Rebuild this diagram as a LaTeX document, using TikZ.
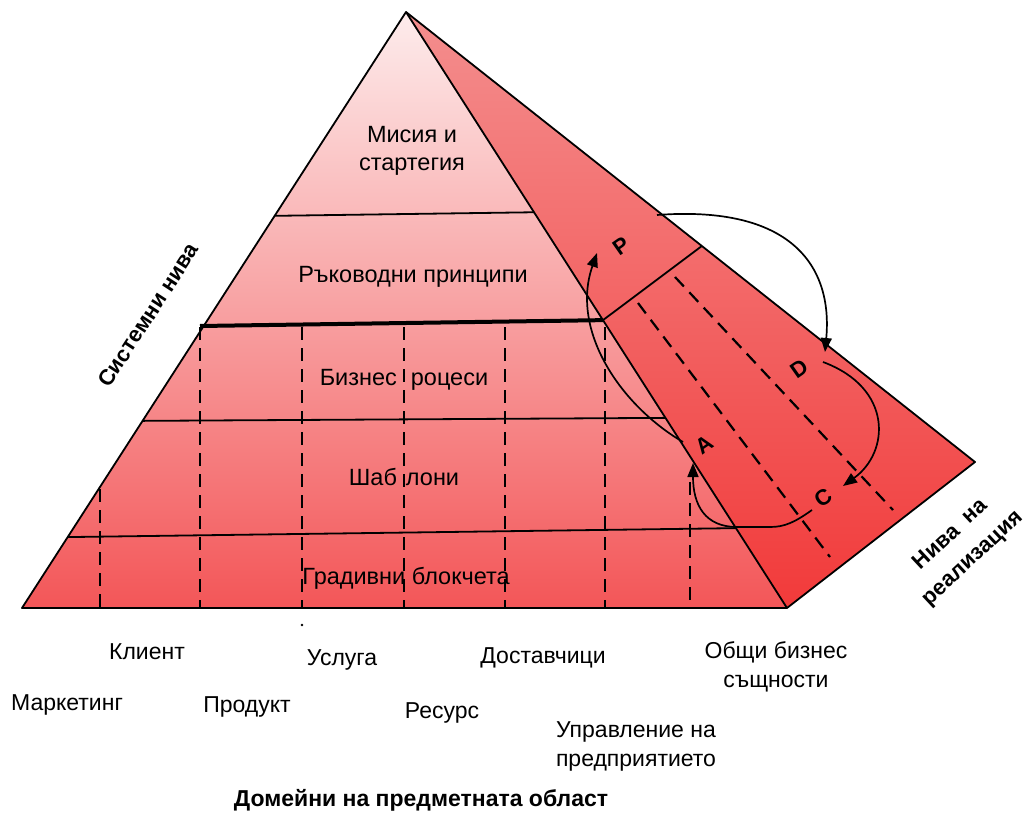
\documentclass[tikz,border=0pt]{standalone}
\usepackage{fontspec}
\setmainfont{Liberation Sans}
\usetikzlibrary{arrows.meta, calc, positioning}
\definecolor{facetop}{RGB}{253,236,236}
\definecolor{facebot}{RGB}{243,86,88}
\definecolor{sidetop}{RGB}{243,142,142}
\definecolor{sidebot}{RGB}{242,58,58}
\tikzset{
>={Triangle[length=14pt,width=11pt]}, % filled black heads
edgeline/.style={line width=1.8pt, line join=round}, % outline and level lines
splitline/.style={line width=4pt}, % the bold level line
domline/.style={line width=2.2pt, dash pattern=on 13pt off 8pt}, % domain separators
cycleline/.style={line width=1.7pt, ->}, % the P-D-C-A loop
lvl/.style={font=\fontsize{23.5}{28}\selectfont, align=center},
dom/.style={font=\fontsize{23}{29}\selectfont, align=center},
axislabel/.style={font=\bfseries\fontsize{22}{32}\selectfont, align=center},
phase/.style={font=\bfseries\fontsize{22}{24}\selectfont, rotate=35},
}

\begin{document}
\begin{tikzpicture}[x=1pt, y=1pt]
      \useasboundingbox (0,0) rectangle (1029,-814);

      % corners of the pyramid
      \coordinate (apex) at (406,-12);
      \coordinate (bl) at (22,-608);
      \coordinate (br) at (787,-608);
      \coordinate (far) at (975,-462);

      % faces
      \shade[top color=sidetop, bottom color=sidebot] (apex) -- (far) -- (br) -- cycle;
      \shade[top color=facetop, bottom color=facebot] (apex) -- (bl) -- (br) -- cycle;

      % level lines
      \coordinate (m1) at ($(apex)!0.342!(bl)$);
      \coordinate (n1) at ($(apex)!0.336!(br)$);
      \coordinate (m2) at (200,-326);
      \coordinate (n2) at ($(apex)!0.517!(br)$);
      \coordinate (o2) at ($(apex)!0.52!(far)$);
      \coordinate (m3) at ($(apex)!0.686!(bl)$);
      \coordinate (n3) at ($(apex)!0.681!(br)$);
      \coordinate (m4) at ($(apex)!0.881!(bl)$);
      \coordinate (n4) at ($(apex)!0.866!(br)$);
      \draw[edgeline] (m1) -- (n1);
      \draw[edgeline] (m3) -- (n3);
      \draw[edgeline] (m4) -- (n4);
      \draw[edgeline] (n2) -- (o2);

      % domain separators
      \foreach \x in {200,302,404,505,605}
        \draw[domline] (\x,-327) -- (\x,-608);
      \draw[domline] (100,-489) -- (100,-608);
      \draw[domline] (690,-482) -- (690,-608);
      \fill (302,-625) circle (1.3pt);
      \draw[domline] (638,-303) -- (830,-557);
      \draw[domline] (675,-277) -- (893,-510);

      \draw[splitline] (m2) -- (n2);
      \draw[edgeline] (apex) -- (bl) -- (br) -- (far) -- cycle;
      \draw[edgeline] (apex) -- (br);

      % P -> D -> C -> A -> P
      \coordinate (pstart) at (657,-215);
      \coordinate (dtip) at (825,-352);
      \coordinate (dstart) at (823,-362);
      \coordinate (ctip) at (843,-486);
      \coordinate (cstart) at (812,-510);
      \coordinate (cbend) at (770,-527);
      \coordinate (cjoin) at (737,-527);
      \coordinate (atip) at (693,-463);
      \coordinate (astart) at (683,-442);
      \coordinate (ptip) at (597,-253);
      \draw[cycleline] (pstart) .. controls (790,-205) and (833,-265) .. (dtip);
      \draw[cycleline] (dstart) .. controls (893,-388) and (890,-452) .. (ctip);
      \draw[cycleline] (cstart) .. controls (795,-522) and (785,-527) .. (cbend)
        -- (cjoin) .. controls (705,-527) and (693,-505) .. (atip);
      \draw[cycleline] (astart) .. controls (620,-405) and (570,-330) .. (ptip);

      \node[phase] (p) at (621,-246) {P};
      \node[phase] (d) at (799,-369) {D};
      \node[phase] (c) at (823,-498) {C};
      \node[phase] (a) at (704,-445) {A};

      % system levels
      \node[lvl] (mission) at (412,-151) {Мисия и\\стартегия};
      \node[lvl] (principles) at (413,-277) {Ръководни принципи};
      \node[lvl] (processes) at (404,-380) {Бизнес\hspace{14pt}роцеси};
      \node[lvl] (templates) at (404,-477) {Шаб\hspace{9pt}лони};
      \node[lvl] (blocks) at (406,-578) {Градивни блокчета};

      % domains
      \node[dom] (client) at (147,-652) {Клиент};
      \node[dom] (marketing) at (67,-705) {Маркетинг};
      \node[dom] (product) at (247,-707) {Продукт};
      \node[dom] (service) at (342,-660) {Услуга};
      \node[dom] (resource) at (442,-713) {Ресурс};
      \node[dom] (suppliers) at (543,-658) {Доставчици};
      \node[dom] (entities) at (776,-667) {Общи бизнес\\същности};
      \node[dom] (enterprise) at (636,-746) {Управление на\\предприятието};

      % axes
      \node[axislabel, rotate=57] (sys) at (148,-315) {Системни нива};
      \node[axislabel, rotate=43] (impl) at (962,-547) {Нива\ \ на\\реализация};
      \node[axislabel, font=\bfseries\fontsize{23}{30}\selectfont] (domains) at (421,-800) {Домейни на предметната област};
\end{tikzpicture}
\end{document}
